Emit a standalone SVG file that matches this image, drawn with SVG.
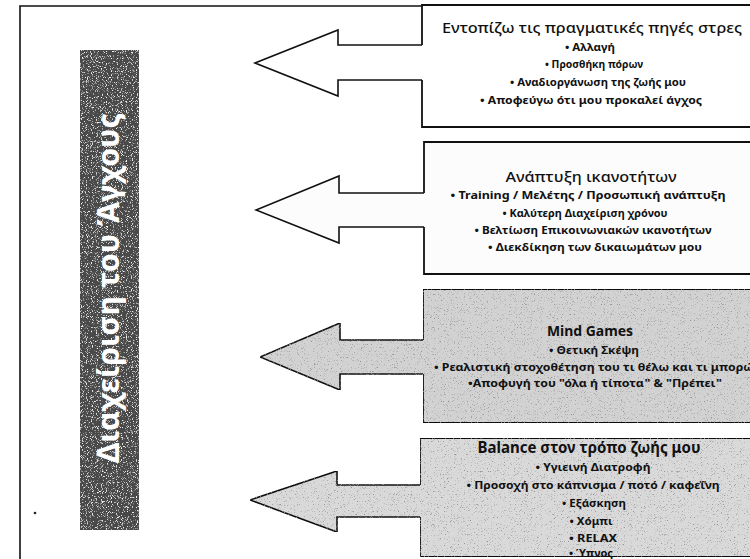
<svg xmlns="http://www.w3.org/2000/svg" width="750" height="559" viewBox="0 0 750 559">
<defs>
<filter id="spk" x="0" y="0" width="1" height="1">
<feTurbulence type="fractalNoise" baseFrequency="1.3" numOctaves="1" seed="7" result="n"/>
<feColorMatrix in="n" type="matrix" values="0 0 0 0 0.3  0 0 0 0 0.3  0 0 0 0 0.3  -6 0 0 0 2.45" result="dots"/>
<feComposite in="dots" in2="SourceGraphic" operator="in" result="d2"/>
<feMerge><feMergeNode in="SourceGraphic"/><feMergeNode in="d2"/></feMerge>
</filter>
<filter id="spw" x="0" y="0" width="1" height="1">
<feTurbulence type="fractalNoise" baseFrequency="1.2" numOctaves="1" seed="3" result="n"/>
<feColorMatrix in="n" type="matrix" values="0 0 0 0 0.9  0 0 0 0 0.9  0 0 0 0 0.9  -6 0 0 0 2.6" result="dots"/>
<feComposite in="dots" in2="SourceGraphic" operator="in" result="d2"/>
<feMerge><feMergeNode in="SourceGraphic"/><feMergeNode in="d2"/></feMerge>
</filter>
</defs>
<style>
.frame{fill:none;stroke:#111;stroke-width:1.6}
.box{stroke:#111;stroke-width:1.8;stroke-linejoin:miter}
.arr{stroke:#111;stroke-width:1.6;stroke-linejoin:miter}
.w{fill:#ffffff}
.d{fill:#fcfcfc}
.g3{fill:#d2d2d2;filter:url(#spk)}
.g4{fill:#d9d9d9;filter:url(#spk)}
text{font-family:"Noto Sans","Open Sans","Liberation Sans",sans-serif;fill:#111;text-anchor:middle}
.t{font-size:14px;font-weight:500}
.t15{font-size:15px;font-weight:500}
.tb{font-size:14.5px;font-weight:700}
.b{font-size:11px;font-weight:700}
.bar{fill:#4a4a4a;filter:url(#spw)}
.bt{fill:#ffffff;font-size:30px;font-weight:700}
</style>
<rect width="750" height="559" fill="#ffffff"/>
<path class="frame" d="M20,559 L20,6 L424,6"/>
<circle cx="35" cy="513" r="1.3" fill="#222"/>

<g id="connectors">
<path class="arr w" d="M424,45 L338,45 L338,30 L255,63 L338,96 L338,80 L424,80"/>
<path class="arr d" d="M425,193 L339,193 L339,176 L256,210 L339,243 L339,227 L425,227"/>
<path class="arr g3" d="M424,340 L340,340 L340,323 L260,357 L340,390 L340,374 L424,374"/>
<path class="arr g4" d="M421,485 L337,485 L337,471 L250,500 L337,532 L337,517 L421,517"/>
</g>

<g id="title-bar">
<rect class="bar" x="80" y="50" width="59" height="480"/>
<text class="bt" transform="translate(119,288) rotate(-90)" x="0" y="0" textLength="350" lengthAdjust="spacingAndGlyphs">Διαχείριση του Άγχους</text>
</g>

<g id="box1">
<path class="box w" d="M422,45 L422,5 L764,5 L764,127 L422,127 L422,80"/>
<text class="t" x="592" y="33" textLength="300" lengthAdjust="spacingAndGlyphs">Εντοπίζω τις  πραγματικές πηγές στρες</text>
<text class="b" x="590" y="51" textLength="50" lengthAdjust="spacingAndGlyphs">• Αλλαγή</text>
<text class="b" x="594" y="68" textLength="98" lengthAdjust="spacingAndGlyphs">• Προσθήκη πόρων</text>
<text class="b" x="598" y="86" textLength="176" lengthAdjust="spacingAndGlyphs">• Αναδιοργάνωση της ζωής μου</text>
<text class="b" x="591" y="104" textLength="222" lengthAdjust="spacingAndGlyphs">• Αποφεύγω ότι μου προκαλεί άγχος</text>
</g>

<g id="box2">
<path class="box d" d="M424,193 L424,142 L764,142 L764,274 L424,274 L424,227"/>
<text class="t15" x="591" y="182" textLength="171" lengthAdjust="spacingAndGlyphs">Ανάπτυξη ικανοτήτων</text>
<text class="b" x="588" y="199" textLength="275" lengthAdjust="spacingAndGlyphs">• Training / Μελέτης / Προσωπική ανάπτυξη</text>
<text class="b" x="585" y="217" textLength="165" lengthAdjust="spacingAndGlyphs">• Καλύτερη Διαχείριση χρόνου</text>
<text class="b" x="593" y="234" textLength="237" lengthAdjust="spacingAndGlyphs">• Βελτίωση Επικοινωνιακών ικανοτήτων</text>
<text class="b" x="595" y="251" textLength="214" lengthAdjust="spacingAndGlyphs">• Διεκδίκηση των δικαιωμάτων μου</text>
</g>

<g id="box3">
<path class="box g3" d="M423,340 L423,289 L764,289 L764,423 L423,423 L423,374"/>
<text class="tb" x="590" y="336" style="font-size:15px" textLength="86" lengthAdjust="spacingAndGlyphs">Mind Games</text>
<text class="b" x="594" y="354" textLength="90" lengthAdjust="spacingAndGlyphs">• Θετική Σκέψη</text>
<text class="b" x="594" y="371" textLength="320" lengthAdjust="spacingAndGlyphs">• Ρεαλιστική στοχοθέτηση του τι θέλω και τι μπορώ</text>
<text class="b" x="595" y="387" textLength="254" lengthAdjust="spacingAndGlyphs">•Αποφυγή του "όλα ή τίποτα" &amp; "Πρέπει"</text>
</g>

<g id="box4">
<path class="box g4" d="M420,485 L420,438 L764,438 L764,557 L420,557 L420,517"/>
<text class="tb" x="589" y="453" style="font-size:16px" textLength="223" lengthAdjust="spacingAndGlyphs">Balance στον τρόπο ζωής μου</text>
<text class="b" x="593" y="471" textLength="115" lengthAdjust="spacingAndGlyphs">• Υγιεινή Διατροφή</text>
<text class="b" x="593" y="489" textLength="253" lengthAdjust="spacingAndGlyphs">• Προσοχή στο κάπνισμα / ποτό / καφεΐνη</text>
<text class="b" x="594" y="507" textLength="64" lengthAdjust="spacingAndGlyphs">• Εξάσκηση</text>
<text class="b" x="591" y="525" textLength="43" lengthAdjust="spacingAndGlyphs">• Χόμπι</text>
<text class="b" x="593" y="542" textLength="48" lengthAdjust="spacingAndGlyphs">• RELAX</text>
<text class="b" x="591" y="557" textLength="44" lengthAdjust="spacingAndGlyphs">• Ύπνος</text>
</g>
</svg>
